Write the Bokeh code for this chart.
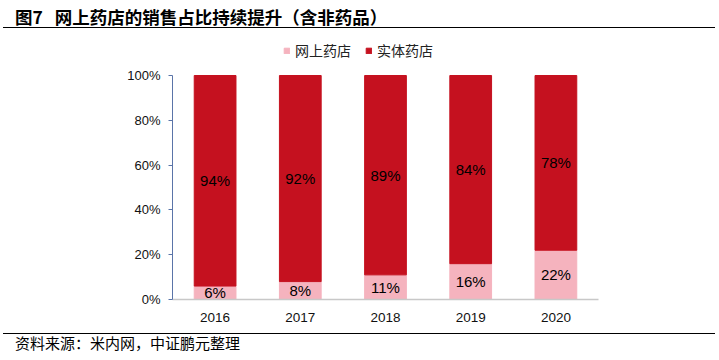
from bokeh.plotting import figure
from bokeh.models import (ColumnDataSource, FactorRange, Range1d, LabelSet, Legend,
                          LegendItem, NumeralTickFormatter, Div, FixedTicker)
from bokeh.core.properties import value
from bokeh.layouts import column
from bokeh.embed import file_html
from bokeh.resources import INLINE

years = ["2016", "2017", "2018", "2019", "2020"]
online = [6, 8, 11, 16, 22]
offline = [94, 92, 89, 84, 78]
series_names = ["网上药店", "实体药店"]
title_text = "图7&nbsp;&nbsp;&nbsp;网上药店的销售占比持续提升（含非药品）"
source_text = "资料来源：米内网，中证鹏元整理"
y_ticks = [0, 0.2, 0.4, 0.6, 0.8, 1.0]

PINK = "#F5B3BE"
RED = "#C5111F"

on_frac = [v / 100 for v in online]
off_frac = [v / 100 for v in offline]
src = ColumnDataSource(dict(
    year=years,
    on_top=on_frac,
    off_top=[a + b for a, b in zip(on_frac, off_frac)],
    on_mid=[a / 2 for a in on_frac],
    off_mid=[a + b / 2 for a, b in zip(on_frac, off_frac)],
    on_lab=[f"{v}%" for v in online],
    off_lab=[f"{v}%" for v in offline],
))

# frame: 0% at 299px, 100% at 75px; extra headroom up to top of the figure (28px) for legend
PX_PER_UNIT = 224
HEADROOM = 47 / PX_PER_UNIT

p = figure(width=719, height=305, x_range=FactorRange(*years, range_padding=0),
           y_range=Range1d(0, 1 + HEADROOM), output_backend="svg", toolbar_location=None,
           min_border_left=172, min_border_right=121, min_border_top=0,
           min_border_bottom=34)
p.outline_line_color = None
p.xgrid.visible = False
p.ygrid.visible = False
p.background_fill_color = "white"
p.border_fill_color = "white"

r_on = p.vbar(x="year", bottom=0, top="on_top", width=0.49, color=PINK, source=src)
r_off = p.vbar(x="year", bottom="on_top", top="off_top", width=0.49, color=RED, source=src)

for col_y, col_t in (("on_mid", "on_lab"), ("off_mid", "off_lab")):
    p.add_layout(LabelSet(x="year", y=col_y, text=col_t, source=src,
                          text_align="center", text_baseline="middle",
                          text_font=value("Liberation Sans"), text_font_size="15px",
                          text_color="black"))

p.yaxis.ticker = FixedTicker(ticks=y_ticks)
p.yaxis.bounds = (0, 1)
p.yaxis.formatter = NumeralTickFormatter(format="0%")
p.yaxis.axis_line_color = "#5A74A8"
p.yaxis.major_tick_line_color = "#5A74A8"
p.yaxis.major_tick_out = 4
p.yaxis.major_tick_in = 0
p.yaxis.minor_tick_line_color = None
p.yaxis.major_label_standoff = 8
p.yaxis.major_label_text_font = "Liberation Sans"
p.yaxis.major_label_text_font_size = "13px"
p.yaxis.major_label_text_color = "#111111"

p.xaxis.axis_line_color = "#C8C8C8"
p.xaxis.axis_line_width = 1.5
p.xaxis.major_tick_line_color = None
p.xaxis.minor_tick_line_color = None
p.xaxis.major_label_standoff = 7
p.xaxis.major_label_text_font = "Liberation Sans"
p.xaxis.major_label_text_font_size = "13.5px"
p.xaxis.major_label_text_color = "#111111"

legend = Legend(items=[LegendItem(label=series_names[0], renderers=[r_on]),
                       LegendItem(label=series_names[1], renderers=[r_off])],
                orientation="horizontal", location=(111, 239),
                glyph_width=7, glyph_height=7, label_standoff=5, spacing=14,
                padding=0, margin=0, border_line_color=None,
                background_fill_alpha=0,
                label_text_font="Noto Sans CJK SC", label_text_font_size="14px",
                label_text_color="#222222")
p.add_layout(legend, "center")

top = Div(text=f'<div style="font-family:\'Noto Sans CJK SC\';font-weight:bold;'
               f'font-size:17.5px;line-height:18px;padding-top:8px;padding-left:12px;'
               f'white-space:nowrap;">{title_text}</div>',
          width=712, height=28, margin=(0, 0, 0, 3),
          styles={"border-bottom": "1.5px solid black", "box-sizing": "border-box"})
bottom = Div(text=f'<div style="font-family:\'Noto Sans CJK SC\';font-size:15px;'
                  f'line-height:16px;padding-top:1px;padding-left:12px;white-space:nowrap;">{source_text}</div>',
             width=712, height=20, margin=(0, 0, 0, 3),
             styles={"border-top": "1.5px solid black", "box-sizing": "border-box"})

layout = column(top, p, bottom, spacing=0)
open("out.html", "w").write(file_html(layout, INLINE))
